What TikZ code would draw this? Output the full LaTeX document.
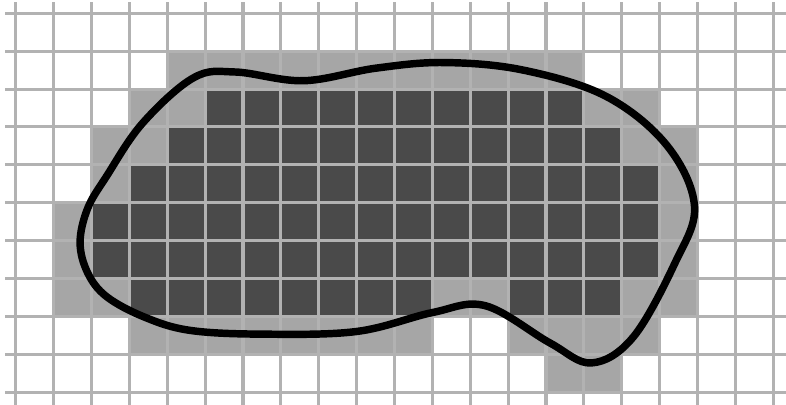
\documentclass[tikz,border=0pt]{standalone}
\begin{document}
\begin{tikzpicture}[x=1cm,y=1cm,
  lightcell/.style={fill=black!35},
  darkcell/.style={fill=black!71},
  gridline/.style={draw=black!30,line width=2.3pt},
  outline/.style={draw=black,line width=5.6pt}]
\useasboundingbox (-0.414,-0.34) rectangle (20.335,10.351);
\fill[white] (-0.414,-0.34) rectangle (20.335,10.351);
% light cells: row/from/to
\foreach \r/\a/\b in {1/4/14, 2/3/4, 2/15/16, 3/2/3, 3/16/17, 4/2/2, 4/17/17,
  5/1/1, 5/17/17, 6/1/1, 6/17/17, 7/1/2, 7/11/12, 7/16/17, 8/3/10, 8/13/16, 9/14/15}
  \foreach \c in {\a,...,\b}
    \path[lightcell] (\c,9-\r) rectangle (\c+1,10-\r);
% dark cells
\foreach \r/\a/\b in {2/5/14, 3/4/15, 4/3/16, 5/2/16, 6/2/16, 7/3/10, 7/13/15}
  \foreach \c in {\a,...,\b}
    \path[darkcell] (\c,9-\r) rectangle (\c+1,10-\r);
% grid
\foreach \i in {0,...,20}
  \draw[gridline] (\i,-0.4) -- (\i,10.3);
\foreach \j in {0,...,10}
  \draw[gridline] (-0.28,\j) -- (20.4,\j);
% closed curve
\draw[outline] plot[smooth cycle,tension=0.6] coordinates {
 (1.70,3.95) (1.9,4.85) (2.4,5.7) (3.35,7.1) (4.7,8.3) (5.8,8.45) (7.6,8.22)
 (9.5,8.55) (11.3,8.7) (13.4,8.5) (15.6,7.8) (17.2,6.5) (17.92,4.9)
 (17.4,3.4) (16.3,1.45) (15.2,0.77) (14.1,1.3) (12.4,2.28) (11.0,2.1)
 (9.0,1.6) (6.5,1.53) (4.6,1.63) (3.4,1.98) (2.4,2.52) (1.9,3.15)};
\end{tikzpicture}
\end{document}
